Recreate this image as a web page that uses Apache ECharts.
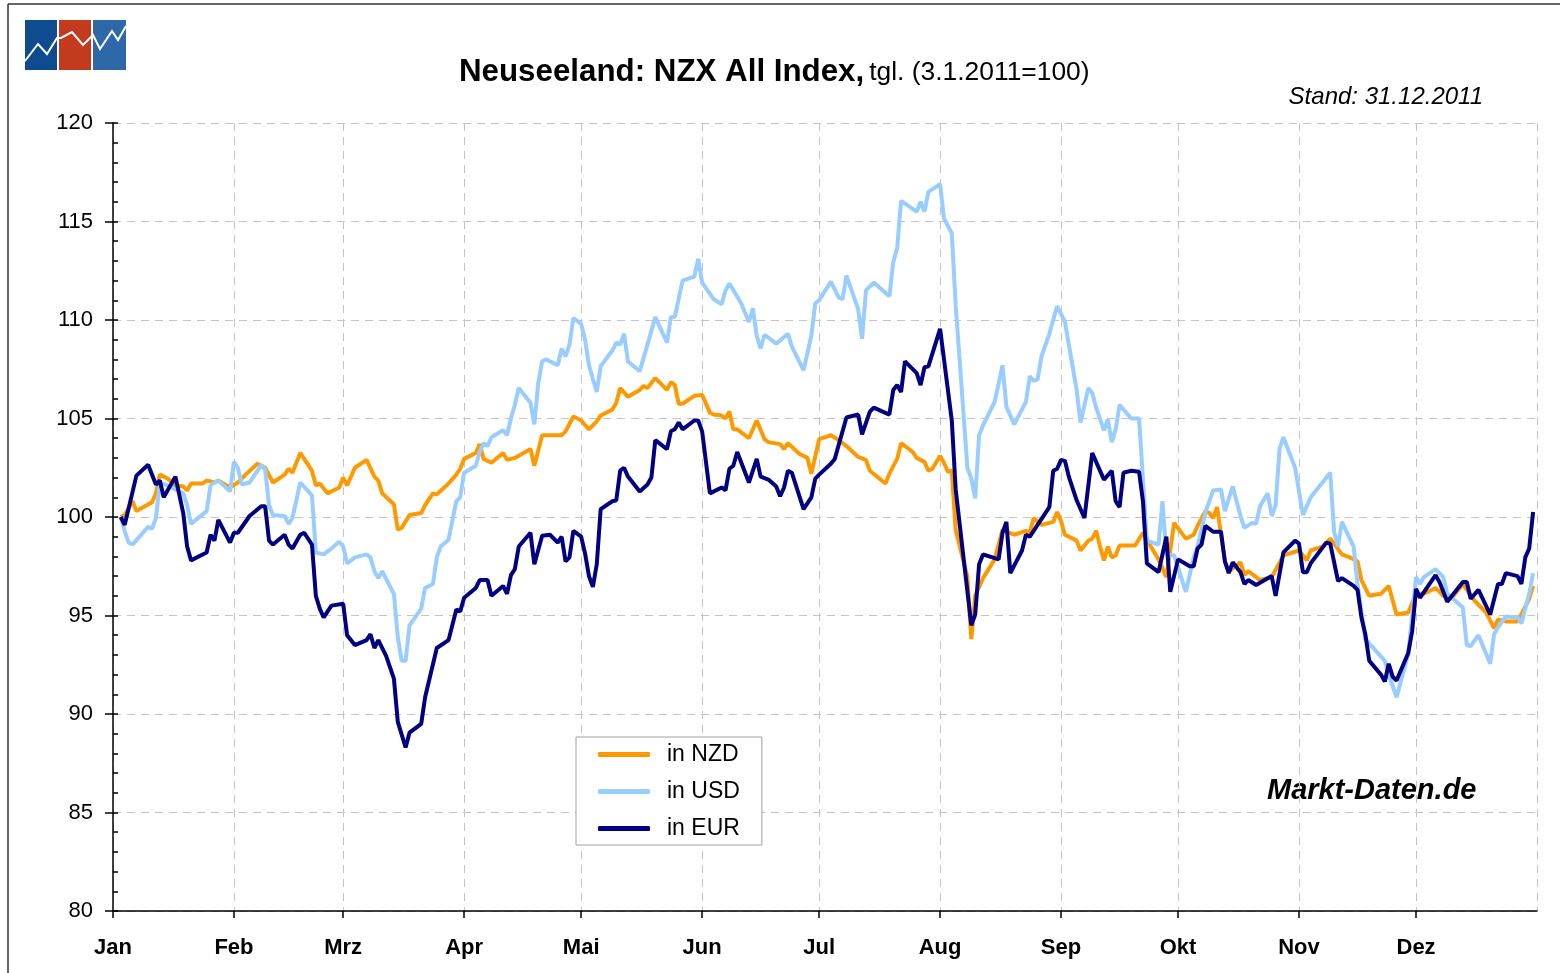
<!DOCTYPE html>
<html>
<head>
<meta charset="utf-8">
<title>Neuseeland: NZX All Index</title>
<script src="https://cdn.jsdelivr.net/npm/echarts@6/dist/echarts.min.js"></script>
<style>
  html, body { margin: 0; padding: 0; background: #fff; }
  #chart { width: 1560px; height: 973px; }
</style>
</head>
<body>
<div id="chart"></div>
<script>
// Tagesschlusskurse 2011, x = Tag im Jahr (0 = 1. Jan), Index 3.1.2011 = 100
var inNZD = [[2,100],[3,100.1],[5,100.8],[6,100.3],[10,100.75],[11,101.2],[12,102.15],[14,101.95],[16,101.6],[18,101.55],[19,101.35],[20,101.7],[23,101.7],[24,101.85],[26,101.75],[27,101.85],[30,101.5],[32,101.75],[34,102.15],[37,102.7],[39,102.5],[41,101.75],[44,102.15],[45,102.45],[46,102.25],[48,103.25],[51,102.35],[52,101.6],[53,101.7],[55,101.2],[58,101.5],[59,102.0],[60,101.6],[62,102.5],[65,102.9],[67,102.05],[68,101.85],[69,101.2],[72,100.65],[73,99.35],[74,99.45],[76,100.1],[79,100.2],[80,100.6],[82,101.2],[83,101.15],[86,101.7],[88,102.15],[89,102.45],[90,102.95],[93,103.25],[94,103.7],[95,102.95],[97,102.75],[100,103.25],[101,102.9],[103,103.0],[107,103.45],[108,102.6],[110,104.15],[115,104.15],[116,104.35],[118,105.1],[120,104.9],[122,104.45],[124,104.85],[125,105.15],[128,105.45],[129,105.8],[130,106.55],[132,106.1],[135,106.45],[136,106.65],[137,106.55],[139,107.05],[142,106.45],[143,106.85],[144,106.7],[145,105.75],[146,105.75],[149,106.15],[151,106.2],[153,105.3],[154,105.2],[156,105.15],[157,105.0],[158,105.35],[159,104.45],[160,104.45],[163,104.0],[165,104.9],[167,103.95],[168,103.8],[171,103.7],[172,103.45],[173,103.75],[176,103.2],[178,103.0],[179,102.2],[181,103.95],[184,104.15],[186,103.9],[188,103.6],[191,103.05],[193,102.9],[194,102.35],[198,101.7],[199,102.2],[201,102.95],[202,103.75],[205,103.3],[206,103.0],[208,102.8],[209,102.35],[210,102.45],[212,103.1],[213,102.75],[214,102.3],[215,102.35],[216,99.35],[219,96.95],[220,93.8],[221,96.0],[223,96.9],[226,97.85],[228,99.35],[231,99.1],[234,99.3],[235,99.2],[236,99.95],[238,99.6],[241,99.75],[242,100.25],[243,99.8],[244,99.1],[247,98.8],[248,98.3],[250,98.8],[251,98.9],[252,99.3],[253,98.5],[254,97.8],[255,98.5],[256,97.95],[257,98.05],[258,98.55],[262,98.55],[264,99.2],[266,98.5],[268,97.85],[270,96.95],[272,99.7],[275,98.9],[277,99.1],[278,99.55],[280,100.3],[281,100.2],[282,99.95],[283,100.5],[285,97.75],[286,97.25],[289,97.7],[290,97.05],[291,97.25],[294,96.8],[297,96.95],[300,98.05],[304,98.3],[306,97.8],[307,98.3],[310,98.5],[312,98.9],[313,98.65],[315,98.1],[317,97.95],[319,97.75],[320,96.8],[322,96.0],[325,96.1],[327,96.5],[329,95.05],[332,95.15],[334,96.1],[336,96.1],[339,96.4],[341,96.0],[343,95.85],[346,96.6],[349,95.75],[352,95.15],[354,94.35],[355,94.8],[357,94.7],[360,94.7],[362,95.45],[363,95.85],[364,96.5]];

var inUSD = [[2,100],[3,99.3],[4,98.7],[5,98.6],[9,99.5],[10,99.4],[11,99.95],[12,101.75],[14,101.6],[18,101.2],[19,100.6],[20,99.65],[24,100.3],[25,101.6],[26,101.75],[27,101.85],[30,101.3],[31,102.8],[32,102.5],[33,101.65],[35,101.75],[38,102.65],[39,102.4],[40,100.6],[41,100.1],[44,100.05],[45,99.65],[46,99.95],[48,101.75],[51,101.1],[52,98.2],[54,98.1],[56,98.4],[58,98.75],[59,98.5],[60,97.65],[62,97.95],[65,98.1],[66,97.95],[67,97.25],[68,96.9],[69,97.25],[72,96.1],[73,93.9],[74,92.7],[75,92.7],[76,94.5],[79,95.35],[80,96.4],[82,96.6],[83,97.95],[84,98.5],[86,98.85],[88,100.8],[89,101.0],[90,102.25],[93,102.6],[94,103.3],[95,103.75],[96,103.6],[97,104.05],[100,104.4],[101,104.15],[102,105.0],[103,105.7],[104,106.55],[107,105.8],[108,104.7],[109,106.8],[110,107.9],[111,108.0],[114,107.7],[115,108.55],[116,108.15],[117,108.75],[118,110.1],[120,109.8],[121,109.0],[122,107.7],[123,107.0],[124,106.35],[125,107.65],[128,108.45],[129,108.85],[130,108.75],[131,109.3],[132,107.9],[135,107.4],[137,108.75],[139,110.15],[142,108.85],[143,110.15],[144,110.15],[146,112.0],[149,112.2],[150,113.1],[151,111.9],[154,111.05],[156,110.8],[157,111.5],[158,111.85],[161,110.85],[163,109.9],[164,110.6],[165,109.2],[166,108.55],[167,109.25],[170,108.8],[173,109.3],[174,108.65],[177,107.45],[179,109.2],[180,110.85],[181,111.0],[184,111.95],[186,111.15],[187,111.05],[188,112.25],[191,110.55],[192,109.05],[193,111.5],[195,111.9],[199,111.2],[200,112.95],[201,113.65],[202,116.05],[206,115.5],[207,116.0],[208,115.5],[209,116.5],[212,116.9],[213,115.15],[215,114.4],[216,110.75],[219,102.5],[220,101.95],[221,100.95],[222,104.15],[223,104.65],[226,105.85],[228,107.7],[229,105.6],[231,104.7],[234,105.85],[235,107.15],[236,106.9],[237,107.0],[238,108.15],[240,109.3],[242,110.7],[244,109.9],[245,108.75],[247,106.45],[248,104.8],[250,106.55],[251,106.3],[252,105.55],[254,104.4],[255,104.95],[256,103.8],[257,104.45],[258,105.7],[261,105.0],[263,105.0],[265,98.8],[268,98.6],[269,100.8],[270,98.1],[272,98.05],[275,96.2],[277,97.95],[278,98.5],[280,100.25],[282,101.35],[284,101.4],[285,100.3],[287,101.55],[289,100.05],[290,99.45],[292,99.7],[293,99.65],[294,100.55],[296,101.2],[297,100.05],[298,100.6],[299,103.45],[300,104.05],[303,102.5],[305,100.1],[307,101.0],[310,101.75],[312,102.25],[313,99.25],[314,98.5],[315,99.75],[318,98.5],[319,96.6],[321,93.8],[326,92.7],[327,92.0],[329,90.85],[332,93.05],[334,96.95],[335,96.6],[336,96.95],[339,97.35],[341,96.95],[342,96.1],[346,95.4],[347,93.5],[348,93.45],[350,94.0],[353,92.55],[354,94.05],[355,94.4],[357,94.95],[360,94.9],[361,94.6],[362,95.35],[363,96.1],[364,97.15]];

var inEUR = [[2,100],[3,99.6],[6,102.1],[9,102.65],[11,101.65],[12,101.85],[13,101.0],[16,102.05],[18,100.2],[19,98.5],[20,97.8],[24,98.2],[25,99.1],[26,98.8],[27,99.85],[30,98.7],[31,99.2],[32,99.2],[35,100.05],[38,100.55],[39,100.55],[40,98.8],[41,98.6],[44,99.1],[45,98.6],[46,98.4],[48,99.1],[49,99.2],[51,98.6],[52,96.0],[53,95.35],[54,94.9],[56,95.5],[59,95.6],[60,94.0],[62,93.5],[65,93.75],[66,94.05],[67,93.35],[68,93.75],[70,92.95],[72,91.8],[73,89.6],[75,88.3],[76,89.05],[79,89.5],[80,90.85],[83,93.35],[86,93.75],[88,95.3],[89,95.2],[90,95.9],[93,96.4],[94,96.8],[96,96.8],[97,96.0],[100,96.5],[101,96.1],[102,97.05],[103,97.35],[104,98.5],[107,99.2],[108,97.6],[110,99.05],[112,99.1],[114,98.7],[115,99.0],[116,97.75],[117,97.95],[118,99.3],[120,99.0],[121,98.15],[122,97.0],[123,96.45],[124,97.6],[125,100.4],[128,100.8],[129,100.85],[130,102.35],[131,102.5],[132,102.05],[135,101.3],[137,101.65],[138,102.0],[139,103.9],[142,103.45],[143,104.35],[144,104.45],[145,104.8],[146,104.45],[149,104.9],[150,104.9],[151,104.35],[153,101.2],[156,101.5],[157,101.35],[158,102.45],[159,102.6],[160,103.3],[163,101.75],[165,102.95],[166,102.05],[168,101.9],[170,101.55],[171,101.05],[172,101.5],[173,102.35],[174,102.25],[177,100.4],[179,101.0],[180,101.95],[181,102.15],[184,102.7],[185,102.95],[188,105.05],[191,105.2],[192,104.2],[194,105.35],[195,105.55],[199,105.2],[200,106.45],[201,106.7],[202,106.35],[203,107.9],[206,107.3],[207,106.7],[208,107.6],[209,107.65],[212,109.55],[215,104.9],[216,101.4],[220,94.5],[221,95.05],[222,97.6],[223,98.1],[227,97.85],[228,99.2],[229,99.75],[230,97.15],[233,98.3],[234,99.1],[235,99.0],[240,100.5],[241,102.35],[242,102.45],[243,102.9],[244,102.85],[245,102.05],[247,100.85],[249,99.95],[251,103.25],[254,101.9],[256,102.35],[257,100.8],[258,100.5],[259,102.25],[261,102.35],[263,102.3],[264,100.8],[265,97.65],[268,97.2],[270,99.0],[271,96.2],[273,97.85],[276,97.5],[277,97.5],[278,98.4],[279,98.6],[280,99.55],[282,99.25],[284,99.25],[285,97.75],[286,97.15],[287,97.7],[289,97.2],[290,96.6],[291,96.8],[293,96.55],[297,97.0],[298,96.0],[300,98.2],[303,98.8],[304,98.65],[305,97.2],[306,97.2],[307,97.65],[311,98.7],[312,98.65],[314,96.75],[315,96.9],[318,96.5],[319,96.3],[320,94.9],[321,94.05],[322,92.7],[325,92.0],[326,91.65],[327,92.55],[328,91.9],[329,91.7],[332,93.1],[333,94.2],[334,96.35],[335,95.9],[339,97.05],[340,96.7],[342,95.7],[346,96.7],[347,96.7],[348,95.85],[350,96.3],[353,95.05],[355,96.6],[356,96.6],[357,97.15],[360,97.0],[361,96.6],[362,97.95],[363,98.4],[364,100.25]];

var monate = ['Jan', 'Feb', 'Mrz', 'Apr', 'Mai', 'Jun', 'Jul', 'Aug', 'Sep', 'Okt', 'Nov', 'Dez'];
var serienNamen = ['in NZD', 'in USD', 'in EUR'];
var farben = ['#ff9900', '#99ccff', '#000080'];

var fontFamily = '"Liberation Sans", Arial, sans-serif';

function tag (d) {
  return new Date(2011, 0, 1 + d).getTime();
}
function toTime (arr) {
  return arr.map(function (p) { return [tag(p[0]), p[1]]; });
}

var myChart = echarts.init(document.getElementById('chart'), null, { renderer: 'canvas' });

myChart.setOption({
  animation: false,
  backgroundColor: '#fff',
  color: farben,
  title: {
    text: '{b|Neuseeland: NZX All Index,} {n|tgl. (3.1.2011=100)}',
    left: 459,
    top: 57,
    padding: 0,
    textStyle: {
      fontWeight: 'normal',
      rich: {
        b: { fontFamily: fontFamily, fontSize: 31.3, fontWeight: 'bold', color: '#000' },
        n: { fontFamily: fontFamily, fontSize: 26.4, fontWeight: 'normal', color: '#000' }
      }
    }
  },
  grid: { left: 113, right: 23, top: 123, bottom: 62 },
  legend: {
    orient: 'vertical',
    left: 576,
    top: 737,
    padding: [6, 22, 5, 22],
    itemGap: 14,
    itemWidth: 52,
    itemHeight: 5,
    icon: 'roundRect',
    backgroundColor: '#fff',
    borderColor: '#a0a0a0',
    borderWidth: 1,
    borderRadius: 0,
    data: serienNamen,
    textStyle: {
      fontFamily: fontFamily,
      fontSize: 23,
      lineHeight: 23,
      color: '#000',
      padding: [0, 0, 0, 12]
    }
  },
  xAxis: {
    type: 'time',
    min: tag(0),
    max: tag(365),
    minInterval: 28 * 86400000,
    maxInterval: 31 * 86400000,
    axisLine: { lineStyle: { color: '#000', width: 1.5 } },
    axisTick: { show: true, length: 7, lineStyle: { color: '#000', width: 1.5 } },
    axisLabel: {
      showMaxLabel: false,
      showMinLabel: true,
      margin: 26,
      fontFamily: fontFamily,
      fontSize: 22,
      fontWeight: 'bold',
      color: '#000',
      formatter: function (val) {
        return monate[new Date(val).getMonth()];
      }
    },
    splitLine: { show: true, lineStyle: { color: '#c4c4c4', type: [8, 6], width: 1 } }
  },
  yAxis: [
    {
      type: 'value',
      min: 80,
      max: 120,
      interval: 5,
      position: 'left',
      axisLine: { show: true, lineStyle: { color: '#000', width: 1.5 } },
      axisTick: { show: true, length: 8, lineStyle: { color: '#000', width: 1.5 } },
      axisLabel: { margin: 20, fontFamily: fontFamily, fontSize: 22, color: '#000' },
      splitLine: { show: true, lineStyle: { color: '#c4c4c4', type: [8, 6], width: 1 } }
    },
    {
      // nur kleine Teilstriche nach innen
      type: 'value',
      min: 80,
      max: 120,
      interval: 1,
      position: 'left',
      axisLine: { show: false },
      axisTick: { show: true, inside: true, length: 5, lineStyle: { color: '#000', width: 1.5 } },
      axisLabel: { show: false },
      splitLine: { show: false }
    }
  ],
  series: [
    {
      name: serienNamen[0],
      type: 'line',
      data: toTime(inNZD),
      showSymbol: false,
      symbol: 'none',
      lineStyle: { width: 4, color: farben[0] },
      z: 2
    },
    {
      name: serienNamen[1],
      type: 'line',
      data: toTime(inUSD),
      showSymbol: false,
      symbol: 'none',
      lineStyle: { width: 4, color: farben[1] },
      z: 3
    },
    {
      name: serienNamen[2],
      type: 'line',
      data: toTime(inEUR),
      showSymbol: false,
      symbol: 'none',
      lineStyle: { width: 4, color: farben[2] },
      z: 4
    }
  ],
  graphic: [
    // Rahmen oben und links
    { type: 'line', shape: { x1: 8, y1: 4, x2: 1560, y2: 4 }, style: { stroke: '#333', lineWidth: 1.5 } },
    { type: 'line', shape: { x1: 8, y1: 4, x2: 8, y2: 973 }, style: { stroke: '#333', lineWidth: 1.5 } },
    // Logo
    { type: 'rect', shape: { x: 25, y: 20, width: 32, height: 50 }, style: { fill: '#0f4c8f' } },
    { type: 'rect', shape: { x: 59, y: 20, width: 32, height: 50 }, style: { fill: '#c23b1f' } },
    { type: 'rect', shape: { x: 93, y: 20, width: 33, height: 50 }, style: { fill: '#2f68a9' } },
    {
      type: 'polyline',
      shape: { points: [[25, 61], [38, 44], [47, 54], [57, 38], [61, 38], [72, 32], [83, 45], [93, 35], [100, 49], [112, 31], [118, 40], [126, 26]] },
      style: { stroke: '#fff', lineWidth: 2, fill: null }
    },
    {
      type: 'text',
      right: 1560 - 1483,
      top: 85,
      style: {
        text: 'Stand: 31.12.2011',
        font: 'italic 24px ' + fontFamily,
        fill: '#000'
      }
    },
    {
      type: 'text',
      left: 1267,
      top: 776,
      style: {
        text: 'Markt-Daten.de',
        font: 'italic bold 29px ' + fontFamily,
        fill: '#000'
      }
    }
  ]
});
</script>
</body>
</html>
